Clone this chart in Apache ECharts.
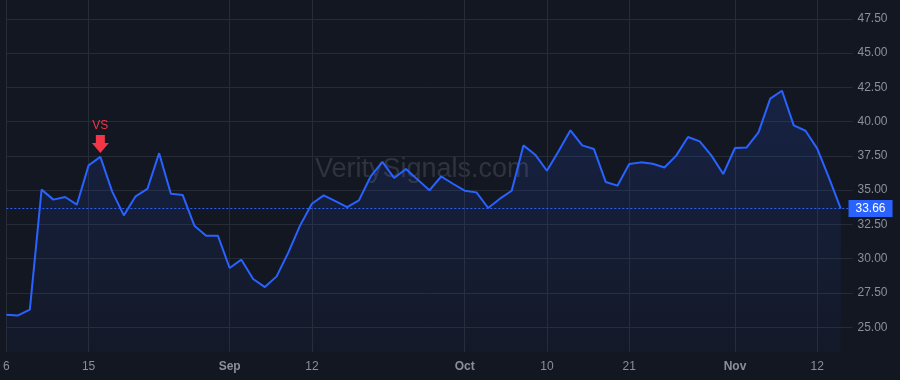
<!DOCTYPE html>
<html><head><meta charset="utf-8">
<script src="https://cdn.jsdelivr.net/npm/echarts@6/dist/echarts.min.js"></script>
<style>html,body{margin:0;padding:0;background:#131722;}#c{width:900px;height:380px;}</style>
</head><body><div id="c"></div><script>
// Trading days (last one is an empty padding day)
const dates = [
  '2024-08-06','2024-08-07','2024-08-08','2024-08-09','2024-08-12','2024-08-13','2024-08-14','2024-08-15','2024-08-16',
  '2024-08-19','2024-08-20','2024-08-21','2024-08-22','2024-08-23','2024-08-26','2024-08-27','2024-08-28','2024-08-29','2024-08-30',
  '2024-09-03','2024-09-04','2024-09-05','2024-09-06','2024-09-09','2024-09-10','2024-09-11','2024-09-12','2024-09-13',
  '2024-09-16','2024-09-17','2024-09-18','2024-09-19','2024-09-20','2024-09-23','2024-09-24','2024-09-25','2024-09-26','2024-09-27','2024-09-30',
  '2024-10-01','2024-10-02','2024-10-03','2024-10-04','2024-10-07','2024-10-08','2024-10-09','2024-10-10','2024-10-11',
  '2024-10-14','2024-10-15','2024-10-16','2024-10-17','2024-10-18','2024-10-21','2024-10-22','2024-10-23','2024-10-24','2024-10-25',
  '2024-10-28','2024-10-29','2024-10-30','2024-10-31',
  '2024-11-01','2024-11-04','2024-11-05','2024-11-06','2024-11-07','2024-11-08','2024-11-11','2024-11-12','2024-11-13','2024-11-14',
  '2024-11-15'
];
const values = [
  25.91,25.86,26.28,35.04,34.31,34.50,33.94,36.81,37.43,
  34.91,33.16,34.55,35.09,37.70,34.74,34.65,32.41,31.68,31.68,
  29.32,29.93,28.52,27.93,28.71,30.46,32.43,34.01,34.62,
  34.20,33.77,34.26,36.00,37.06,35.89,36.55,35.77,34.99,36.00,35.47,
  34.96,34.84,33.70,34.38,34.96,38.27,37.59,36.42,37.86,
  39.37,38.27,38.00,35.60,35.33,36.91,37.03,36.93,36.66,37.52,
  38.88,38.56,37.52,36.18,
  38.08,38.12,39.22,41.68,42.26,39.73,39.34,38.03,35.90,33.66,
  null
];
const tickDates  = ['2024-08-06','2024-08-15','2024-09-03','2024-09-12','2024-10-01','2024-10-10','2024-10-21','2024-11-01','2024-11-12'];
const tickLabels = ['6','15','Sep','12','Oct','10','21','Nov','12'];
const monthLabels = ['Sep','Oct','Nov'];
const lastValue = 33.66;
const markerDate = '2024-08-16';
const markerValue = 37.43;
const markerText = 'VS';
const yMin = 23.19, yMax = 48.88, yStep = 2.5;
const watermark = 'VeritySignals.com';

const FONT = 'Liberation Sans, Arial, sans-serif';
const chart = echarts.init(document.getElementById('c'), null, {renderer:'canvas'});
const isTick = (idx, val) => tickDates.indexOf(val) >= 0;

chart.setOption({
  backgroundColor: '#131722',
  animation: false,
  grid: { left: 5, right: 47.5, top: 0, bottom: 28, containLabel: false },
  graphic: [{
    type: 'text', left: 315, top: 156, silent: true,
    style: { text: watermark, font: '27px ' + FONT, fill: 'rgba(150,154,165,0.22)' }
  }],
  xAxis: {
    type: 'category', data: dates, boundaryGap: false,
    axisLine: { show: false }, axisTick: { show: false },
    axisLabel: {
      interval: isTick, margin: 9, color: '#8b8f99', fontSize: 12, fontFamily: FONT,
      formatter: (v) => {
        const i = tickDates.indexOf(v); if (i < 0) return '';
        const t = tickLabels[i];
        return monthLabels.indexOf(t) >= 0 ? '{b|' + t + '}' : t;
      },
      rich: { b: { fontWeight: 'bold', color: '#8b8f99', fontSize: 12, fontFamily: FONT } }
    },
    splitLine: { show: true, interval: isTick, lineStyle: { color: '#262b36', width: 1 } }
  },
  yAxis: {
    type: 'value', position: 'right', min: yMin, max: yMax,
    minInterval: yStep, maxInterval: yStep, splitNumber: 10,
    axisLine: { show: false }, axisTick: { show: false },
    axisLabel: {
      margin: 5, color: '#8b8f99', fontSize: 12, fontFamily: FONT,
      showMinLabel: false, showMaxLabel: false,
      formatter: (v) => v.toFixed(2)
    },
    splitLine: { show: true, showMinLine: false, showMaxLine: false, lineStyle: { color: '#262b36', width: 1 } }
  },
  series: [{
    type: 'line', data: values, symbol: 'none', smooth: false,
    lineStyle: { color: '#2962ff', width: 2 },
    itemStyle: { color: '#2962ff' },
    areaStyle: {
      color: new echarts.graphic.LinearGradient(0, 0, 0, 1, [
        { offset: 0, color: 'rgba(41,98,255,0.22)' },
        { offset: 1, color: 'rgba(41,98,255,0.04)' }
      ])
    },
    markLine: {
      silent: true, symbol: ['none', 'none'], animation: false,
      lineStyle: { color: '#2962ff', width: 1, type: [2, 2] },
      label: {
        show: true, position: 'end', distance: -4,
        formatter: () => lastValue.toFixed(2),
        backgroundColor: '#2962ff', color: '#ffffff', fontSize: 12, fontFamily: FONT,
        padding: [2, 7, 2, 7], lineHeight: 13
      },
      data: [{ yAxis: lastValue }]
    },
    markPoint: {
      silent: true, animation: false,
      symbol: 'path://M4,0 L13,0 L13,8 L17,8 L8.5,18 L0,8 L4,8 Z',
      symbolSize: [17, 18], symbolOffset: [0, -13], symbolKeepAspect: false,
      itemStyle: { color: '#f23645' },
      label: { show: true, position: 'top', distance: 3, formatter: markerText, color: '#f23645', fontSize: 12, fontFamily: FONT },
      data: [{ coord: [markerDate, markerValue] }]
    }
  }]
});
</script></body></html>
